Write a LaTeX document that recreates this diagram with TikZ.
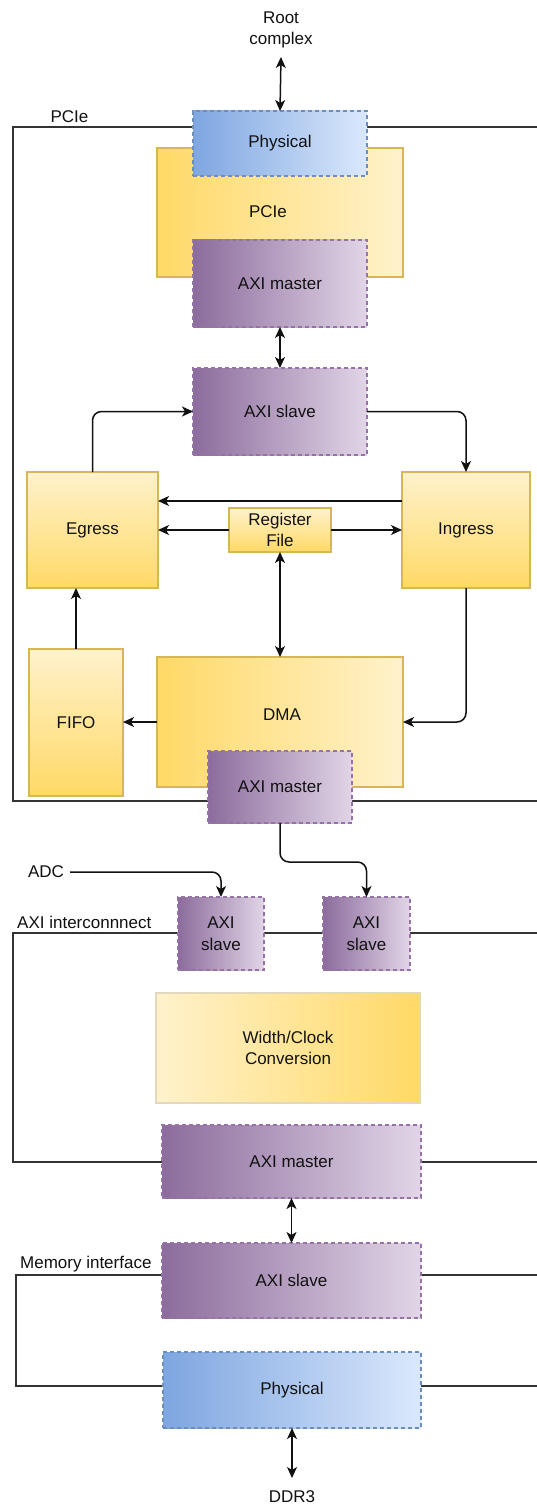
\documentclass[tikz,border=0pt]{standalone}
\usepackage{fontspec}
\setmainfont{Liberation Sans}
\usetikzlibrary{arrows.meta,calc}

\definecolor{ylight}{HTML}{FFF2CC}
\definecolor{ydark}{HTML}{FFD966}
\definecolor{ystroke}{HTML}{D6B656}
\definecolor{yfaint}{HTML}{E2D8BE}
\definecolor{plight}{HTML}{E1D5E7}
\definecolor{pdark}{HTML}{8C6C9C}
\definecolor{pstroke}{HTML}{9673A6}
\definecolor{blight}{HTML}{DAE8FC}
\definecolor{bdark}{HTML}{7EA6E0}
\definecolor{bstroke}{HTML}{6C8EBF}
\definecolor{ink}{HTML}{111111}
\definecolor{grpline}{HTML}{333333}

\tikzset{
  lbl/.style={font=\fontsize{17}{21.5}\selectfont, text=ink, align=center, inner sep=0pt},
  sz/.style 2 args={minimum width=#1pt, minimum height=#2pt},
  blk/.style={lbl, line width=1.2pt, outer sep=0pt},
  yside/.style={blk, draw=ystroke, left color=ydark, right color=ylight},
  yconv/.style={blk, draw=yfaint, left color=ylight, right color=ydark},
  ycol/.style={blk, draw=ystroke, top color=ylight, bottom color=ydark},
  axi/.style={blk, draw=pstroke, dash pattern=on 4pt off 3pt, left color=pdark, right color=plight},
  phy/.style={blk, draw=bstroke, dash pattern=on 4pt off 3pt, left color=bdark, right color=blight},
  grp/.style={draw=grpline, line width=1.3pt},
  tip/.tip={Stealth[length=11pt,width=10pt,inset=3pt]},
  arr/.style={draw=ink, line width=1.5pt, -tip},
  dbl/.style={draw=ink, line width=1.5pt, tip-tip},
  roundbend/.style={rounded corners=9pt}
}

\begin{document}
\begin{tikzpicture}[x=1pt,y=-1pt]
\clip (0,0) rectangle (537,1506);
\fill[white] (0,0) rectangle (537,1506);

% ---- group outlines (open to the right) ----
\draw[grp] (545,127) -- (13,127) -- (13,801) -- (545,801);
\draw[grp] (545,933) -- (13,933) -- (13,1162) -- (545,1162);
\draw[grp] (545,1275) -- (16,1275) -- (16,1386) -- (545,1386);

\node[lbl] (pcielbl) at (69.5,117) {PCIe};
\node[lbl, anchor=west] (axiclbl) at (17,922) {AXI interconnnect};
\node[lbl, anchor=west] (memlbl) at (20,1264) {Memory interface};

% ---- PCIe core ----
\node[lbl] (rootc) at (281,30) {Root\\complex};
\coordinate (rcend) at (281,57);

\node[yside, sz={246}{129}] (pcie) at (280,212.5) {};
\node[lbl] (pcietext) at (268,212) {PCIe};
\node[phy, sz={174}{65}] (phys1) at (280,143.5) {Physical};
\node[axi, sz={174}{87}] (amaster1) at (280,283.5) {AXI master};
\node[axi, sz={174}{87}] (aslave1) at (280,411.5) {AXI slave};

\node[ycol, sz={131}{116}] (egress) at (92.5,530) {Egress};
\node[ycol, sz={128}{116}] (ingress) at (466,530) {Ingress};
\node[ycol, sz={102}{44}] (regfile) at (280,530) {Register\\File};

\node[yside, sz={246}{130}] (dma) at (280,722) {};
\node[lbl] (dmatext) at (282,715) {DMA};
\node[ycol, sz={94}{147}] (fifo) at (76,722.5) {FIFO};
\node[axi, sz={144}{72}] (amaster2) at (280,787) {AXI master};

% ---- AXI interconnect ----
\node[lbl] (adc) at (46,872) {ADC};
\node[axi, sz={86}{73}] (aslave3) at (221,933.5) {AXI\\slave};
\node[axi, sz={87}{73}] (aslave2) at (366.5,933.5) {AXI\\slave};
\node[yconv, sz={264}{110}] (wcc) at (288,1048) {Width/Clock\\Conversion};
\node[axi, sz={259}{73}] (amaster3) at (291.5,1161.5) {AXI master};

% ---- memory interface ----
\node[axi, sz={259}{75}] (aslave4) at (291.5,1280.5) {AXI slave};
\node[phy, sz={258}{76}] (phys2) at (292,1390) {Physical};
\coordinate (ddrend) at (292,1478);
\node[lbl] (ddr) at (292,1497) {DDR3};

% ---- connectors ----
\draw[dbl] (rcend) -- (phys1.north);
\draw[dbl] (amaster1.south) -- (aslave1.north);
\draw[arr, roundbend] (egress.north) |- (aslave1.west);
\draw[arr, roundbend] (aslave1.east) -| (ingress.north);
\draw[arr] ($(ingress.north west)!0.25!(ingress.south west)$) -- ($(egress.north east)!0.25!(egress.south east)$);
\draw[arr] (regfile.west) -- (egress.east);
\draw[arr] (regfile.east) -- (ingress.west);
\draw[dbl] (regfile.south) -- (dma.north);
\draw[arr] (fifo.north) -- (fifo.north |- egress.south);
\draw[arr] (dma.west) -- (dma.west -| fifo.east);
\draw[arr, roundbend] (ingress.south) |- (dma.east);
\draw[arr, roundbend] (amaster2.south) -- ++(0,39) -| (aslave2.north);
\draw[arr, roundbend] ([xshift=6pt]adc.east) -| (aslave3.north);
\draw[dbl] (amaster3.south) -- (aslave4.north);
\draw[dbl] (phys2.south) -- (ddrend);
\end{tikzpicture}
\end{document}
